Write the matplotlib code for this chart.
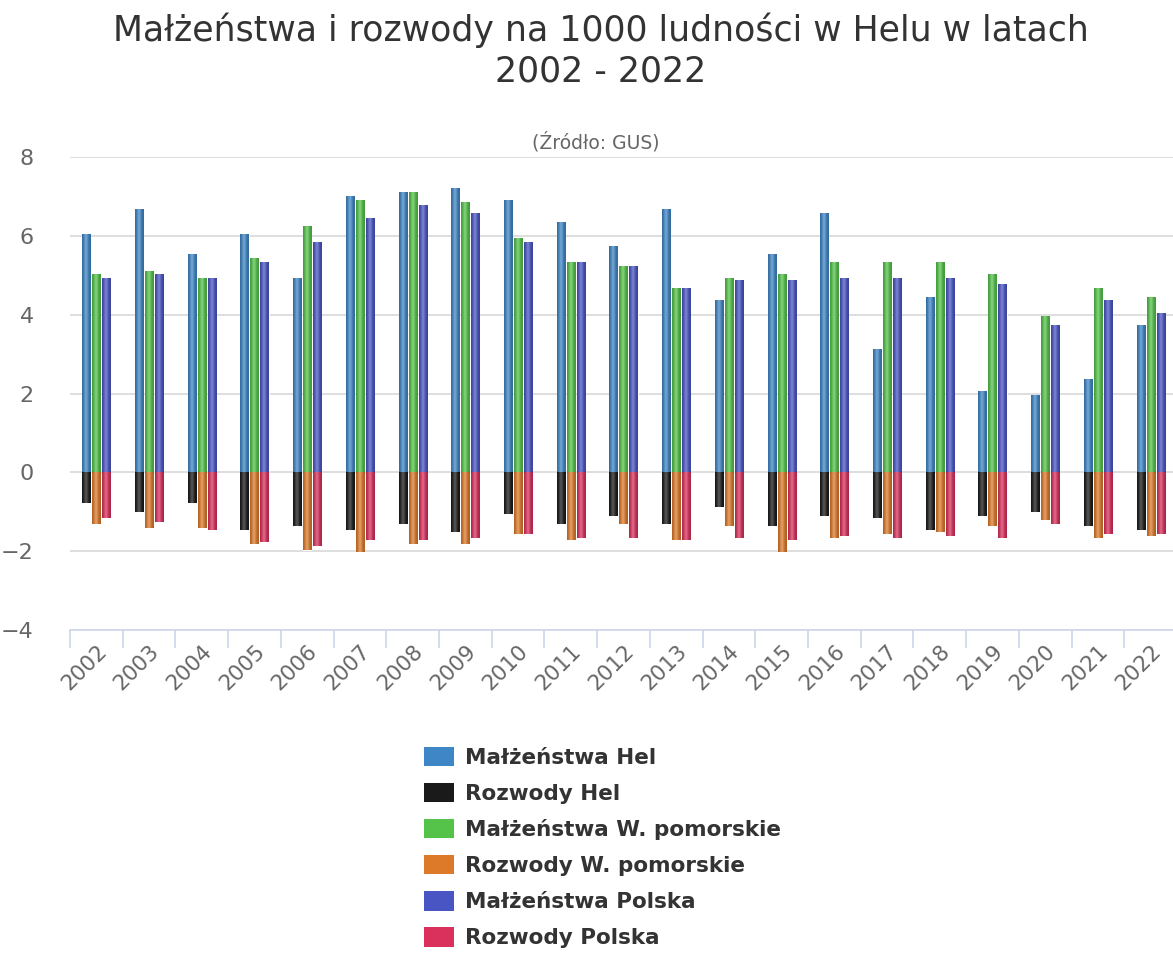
import numpy as np
import matplotlib.pyplot as plt
from matplotlib.patches import Patch
from matplotlib.colors import to_rgb

years = [str(y) for y in range(2002, 2023)]

# marriages per 1000 (positive) and divorces per 1000 (negative)
malz_hel = [6.05, 6.67, 5.54, 6.05, 4.93, 7.02, 7.12, 7.22, 6.92, 6.36, 5.74,
            6.67, 4.36, 5.54, 6.57, 3.13, 4.46, 2.06, 1.96, 2.36, 3.75]
rozw_hel = [-0.79, -1.00, -0.79, -1.46, -1.36, -1.46, -1.31, -1.51, -1.05, -1.31, -1.11,
            -1.31, -0.89, -1.36, -1.11, -1.16, -1.46, -1.11, -1.00, -1.36, -1.46]
malz_pom = [5.02, 5.12, 4.93, 5.43, 6.25, 6.92, 7.12, 6.87, 5.95, 5.33, 5.23,
            4.67, 4.93, 5.02, 5.33, 5.33, 5.33, 5.02, 3.96, 4.67, 4.46]
rozw_pom = [-1.31, -1.41, -1.41, -1.82, -1.97, -2.03, -1.82, -1.82, -1.56, -1.72, -1.31,
            -1.72, -1.36, -2.03, -1.67, -1.56, -1.51, -1.36, -1.21, -1.67, -1.62]
malz_pl = [4.93, 5.02, 4.93, 5.33, 5.85, 6.46, 6.77, 6.57, 5.85, 5.33, 5.23,
           4.67, 4.87, 4.87, 4.93, 4.93, 4.93, 4.77, 3.75, 4.36, 4.05]
rozw_pl = [-1.16, -1.26, -1.46, -1.77, -1.87, -1.72, -1.72, -1.67, -1.56, -1.67, -1.67,
           -1.72, -1.67, -1.72, -1.62, -1.67, -1.62, -1.67, -1.31, -1.56, -1.56]

c_blue = '#3f86c6'
c_black = '#1a1a1a'
c_green = '#55c24a'
c_orange = '#dd7a2a'
c_purple = '#4a55c4'
c_red = '#d9305c'


def shade(color):
    # horizontal gradient: dark edges, light center
    r = np.array(to_rgb(color))
    t = np.linspace(-1, 1, 40)
    w = np.exp(-((t + 0.1) / 0.5) ** 2)
    dark = r * 0.8
    light = r + (1 - r) * 0.25
    img = dark[None, :] * (1 - w[:, None]) + light[None, :] * w[:, None]
    return img[None, :, :]


fig = plt.figure(figsize=(11.73, 9.55), dpi=100)
ax = fig.add_axes([70 / 1173, 1 - 630 / 955, 1107 / 1173, 473 / 955])

x = np.arange(len(years))
bw = 0.155
off = 0.19
series = [
    (-off, malz_hel, c_blue), (-off, rozw_hel, c_black),
    (0, malz_pom, c_green), (0, rozw_pom, c_orange),
    (off, malz_pl, c_purple), (off, rozw_pl, c_red),
]
for dx, vals, col in series:
    bars = ax.bar(x + dx, vals, width=bw, color=col, edgecolor='white', linewidth=0.8, zorder=2)
    img = shade(col)
    for b in bars:
        x0 = b.get_x()
        h = b.get_height()
        y0 = b.get_y()
        im = ax.imshow(img, extent=[x0, x0 + bw, min(y0, y0 + h), max(y0, y0 + h)],
                       aspect='auto', interpolation='bilinear', zorder=2.5)
        im.set_clip_path(b)

ax.set_xlim(-0.5, len(years) - 0.5)
ax.set_ylim(-4, 8)
ax.set_yticks([-4, -2, 0, 2, 4, 6, 8])
ax.set_yticklabels(['−4', '−2', '0', '2', '4', '6', '8'])
ax.grid(axis='y', color='#d8d8d8', linewidth=1.2, zorder=0)
for s in ['top', 'right', 'left']:
    ax.spines[s].set_visible(False)
ax.spines['bottom'].set_color('#ccd6eb')
ax.spines['bottom'].set_linewidth(1.2)
ax.tick_params(axis='y', length=0, labelsize=16, labelcolor='#666666', pad=26)

ax.set_xticks(x)
ax.set_xticklabels(years, rotation=45, ha='right', rotation_mode='anchor')
ax.tick_params(axis='x', which='major', length=0, labelsize=15.5, labelcolor='#666666', pad=8)
ax.set_xticks(np.arange(-0.5, len(years)), minor=True)
ax.tick_params(axis='x', which='minor', length=13, color='#ccd6eb', width=1.2)

fig.text(0.512, 1 - 30 / 955, 'Małżeństwa i rozwody na 1000 ludności w Helu w latach',
         ha='center', va='center', fontsize=25, color='#333333')
fig.text(0.512, 1 - 71 / 955, '2002 - 2022', ha='center', va='center', fontsize=25, color='#333333')
fig.text(0.508, 1 - 142 / 955, '(Źródło: GUS)', ha='center', va='center', fontsize=13.5, color='#666666')

labels = ['Małżeństwa Hel', 'Rozwody Hel', 'Małżeństwa W. pomorskie',
          'Rozwody W. pomorskie', 'Małżeństwa Polska', 'Rozwody Polska']
cols = [c_blue, c_black, c_green, c_orange, c_purple, c_red]
handles = [Patch(facecolor=c, edgecolor='none') for c in cols]
fig.legend(handles, labels, loc='upper left', bbox_to_anchor=(424 / 1173, 1 - 747 / 955),
           frameon=False, prop={'weight': 'bold', 'size': 15.5}, labelcolor='#333333',
           handlelength=1.4, handleheight=1.0, handletextpad=0.5, labelspacing=0.7,
           borderpad=0, borderaxespad=0)

fig.savefig('out.png', dpi=100)
